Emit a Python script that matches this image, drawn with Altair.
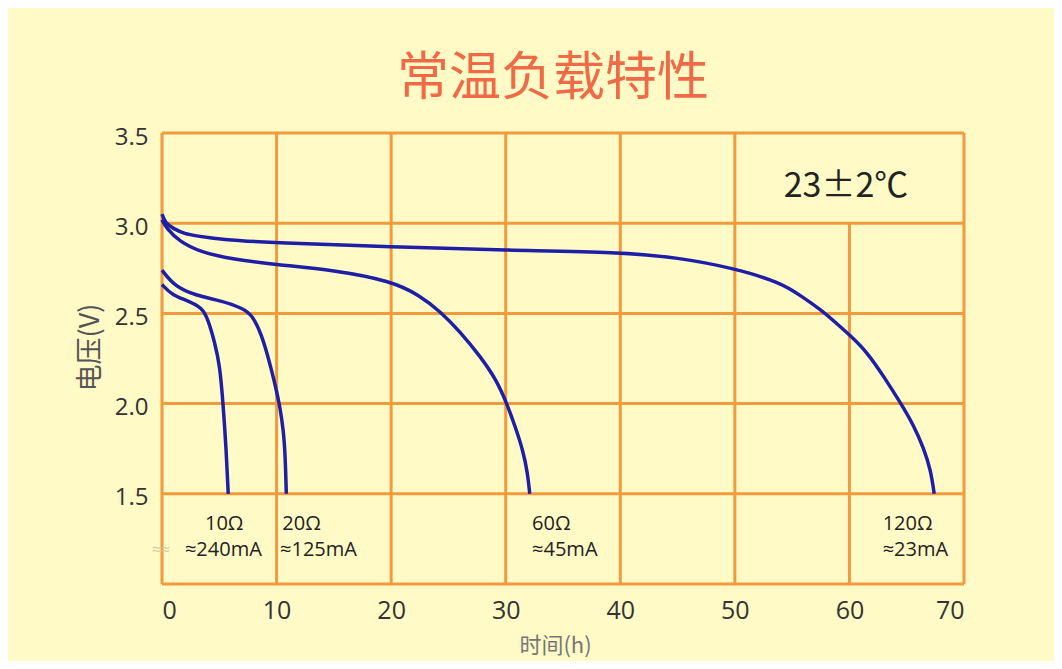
import altair as alt
import pandas as pd

# ---- data ----
t_10 = [0, 0.9, 2.3, 3.5, 4.0, 4.6, 5.05, 5.33, 5.6, 5.78]
v_10 = [2.66, 2.60, 2.57, 2.53, 2.47, 2.34, 2.21, 2.00, 1.75, 1.50]

t_20 = [0, 1.1, 2.9, 5.2, 7.0, 7.9, 8.7, 9.3, 9.9, 10.3, 10.6, 10.75, 10.85]
v_20 = [2.74, 2.65, 2.60, 2.57, 2.53, 2.49, 2.38, 2.25, 2.10, 1.98, 1.85, 1.72, 1.50]

t_60 = [0, 0.4, 1.5, 3.3, 6.2, 10, 15, 20, 22.5, 24.3, 26.0, 27.8, 29.2, 30.1, 30.9, 31.5, 31.9, 32.1]
v_60 = [3.02, 2.97, 2.90, 2.84, 2.80, 2.77, 2.74, 2.68, 2.60, 2.51, 2.40, 2.26, 2.13, 2.00, 1.86, 1.74, 1.62, 1.50]

t_120 = [0, 0.3, 1, 2, 3, 5, 10, 20, 30, 40, 45, 50, 54.0, 55.7, 57.5, 58.6, 60.2, 61.6, 63.0, 64.5, 65.6, 66.5, 67.1, 67.4]
v_120 = [3.05, 3.00, 2.97, 2.94, 2.93, 2.91, 2.89, 2.87, 2.85, 2.84, 2.81, 2.75, 2.67, 2.60, 2.52, 2.46, 2.37, 2.28, 2.15, 2.00, 1.88, 1.75, 1.63, 1.50]

x_ticks = [0, 10, 20, 30, 40, 50, 60, 70]
y_ticks = [1.5, 2.0, 2.5, 3.0, 3.5]
grid_x = [0, 10, 20, 30, 40, 50, 60, 70]
grid_x_top = [3.5, 3.5, 3.5, 3.5, 3.5, 3.5, 3.0, 3.5]
grid_y = [1.0, 1.5, 2.0, 2.5, 3.0, 3.5]

ann_text = ["10Ω", "≈240mA", "20Ω", "≈125mA", "60Ω", "≈45mA", "120Ω", "≈23mA"]
ann_t = [3.75, 2.0, 10.5, 10.3, 32.3, 32.3, 62.9, 62.9]
ann_v = [1.335, 1.19, 1.335, 1.19, 1.335, 1.19, 1.335, 1.19]

BG = "#FFFAC6"
ORANGE = "#F29A3C"
BLUE = "#1E1EA6"

rows = []
for name, ts, vs in [("10Ω", t_10, v_10), ("20Ω", t_20, v_20), ("60Ω", t_60, v_60), ("120Ω", t_120, v_120)]:
    for i, (t, v) in enumerate(zip(ts, vs)):
        rows.append({"series": name, "t": t, "v": v, "order": i})
curves = pd.DataFrame(rows)

xs = alt.Scale(domain=[0, 70], nice=False, zero=False)
ys = alt.Scale(domain=[1.0, 3.5], nice=False, zero=False)

x_axis = alt.Axis(
    values=x_ticks,
    format="d",
    ticks=False,
    domain=False,
    grid=False,
    labelFontSize=25,
    labelColor="#333333",
    labelFont="Open Sans",
    labelPadding=14,
    title="时间(h)",
    titleFont="Noto Sans CJK SC",
    titleFontSize=22,
    titleFontWeight="normal",
    titleColor="#777777",
    titleX=393,
    titleY=61,
    titleBaseline="middle",
    titleAlign="center",
)
y_axis = alt.Axis(
    values=y_ticks,
    format=".1f",
    ticks=False,
    domain=False,
    grid=False,
    labelFontSize=24,
    labelColor="#333333",
    labelFont="Open Sans",
    labelPadding=14,
    labelOffset=4,
    title="电压(V)",
    titleFont="Noto Sans CJK SC",
    titleFontSize=27,
    titleFontWeight="normal",
    titleColor="#555555",
    titleX=-72,
    titleY=214,
    titleBaseline="middle",
    titleAlign="center",
)

vgrid = alt.Chart(pd.DataFrame({"x": grid_x, "top": grid_x_top, "bot": [1.0] * len(grid_x)})).mark_rule(
    color=ORANGE, strokeWidth=3
).encode(
    x=alt.X("x:Q", scale=xs, axis=x_axis),
    y=alt.Y("bot:Q", scale=ys, axis=y_axis),
    y2="top:Q",
)

hgrid = alt.Chart(pd.DataFrame({"y": grid_y, "x0": [0] * len(grid_y), "x1": [70] * len(grid_y)})).mark_rule(
    color=ORANGE, strokeWidth=3
).encode(
    y=alt.Y("y:Q", scale=ys, axis=y_axis),
    x=alt.X("x0:Q", scale=xs, axis=x_axis),
    x2="x1:Q",
)

lines = alt.Chart(curves).mark_line(color=BLUE, strokeWidth=3.5, interpolate="basis").encode(
    x=alt.X("t:Q", scale=xs, axis=x_axis),
    y=alt.Y("v:Q", scale=ys, axis=y_axis),
    detail="series:N",
    order="order:Q",
)

ann = alt.Chart(pd.DataFrame({"text": ann_text, "t": ann_t, "v": ann_v})).mark_text(
    align="left", baseline="middle", fontSize=20, font="Open Sans", color="#222222"
).encode(
    x=alt.X("t:Q", scale=xs, axis=x_axis),
    y=alt.Y("v:Q", scale=ys, axis=y_axis),
    text="text:N",
)

faint = alt.Chart(pd.DataFrame({"text": ["≈≈"], "t": [-0.1], "v": [1.19]})).mark_text(
    align="center", baseline="middle", fontSize=16, font="Open Sans", color="#D2C9A2"
).encode(
    x=alt.X("t:Q", scale=xs, axis=x_axis),
    y=alt.Y("v:Q", scale=ys, axis=y_axis),
    text="text:N",
)

temp = alt.Chart(pd.DataFrame({"text": ["23±2℃"], "t": [59.7], "v": [3.2]})).mark_text(
    align="center", baseline="middle", fontSize=34, font="Noto Sans CJK SC", color="#222222"
).encode(
    x=alt.X("t:Q", scale=xs, axis=x_axis),
    y=alt.Y("v:Q", scale=ys, axis=y_axis),
    text="text:N",
)

chart = alt.layer(vgrid, hgrid, lines, ann, faint, temp).properties(
    width=802,
    height=451,
    autosize=alt.AutoSizeParams(type="none"),
    padding={"left": 154, "top": 125, "right": 90, "bottom": 77},
    background=BG,
    title=alt.TitleParams(
        text="常温负载特性",
        font="Noto Sans CJK SC",
        fontSize=52,
        fontWeight="normal",
        color="#F06A48",
        anchor="middle",
        dx=-10,
        offset=19,
    ),
).configure_view(stroke=None)

chart.save("out.html", embed_options={"renderer": "svg", "actions": False})
